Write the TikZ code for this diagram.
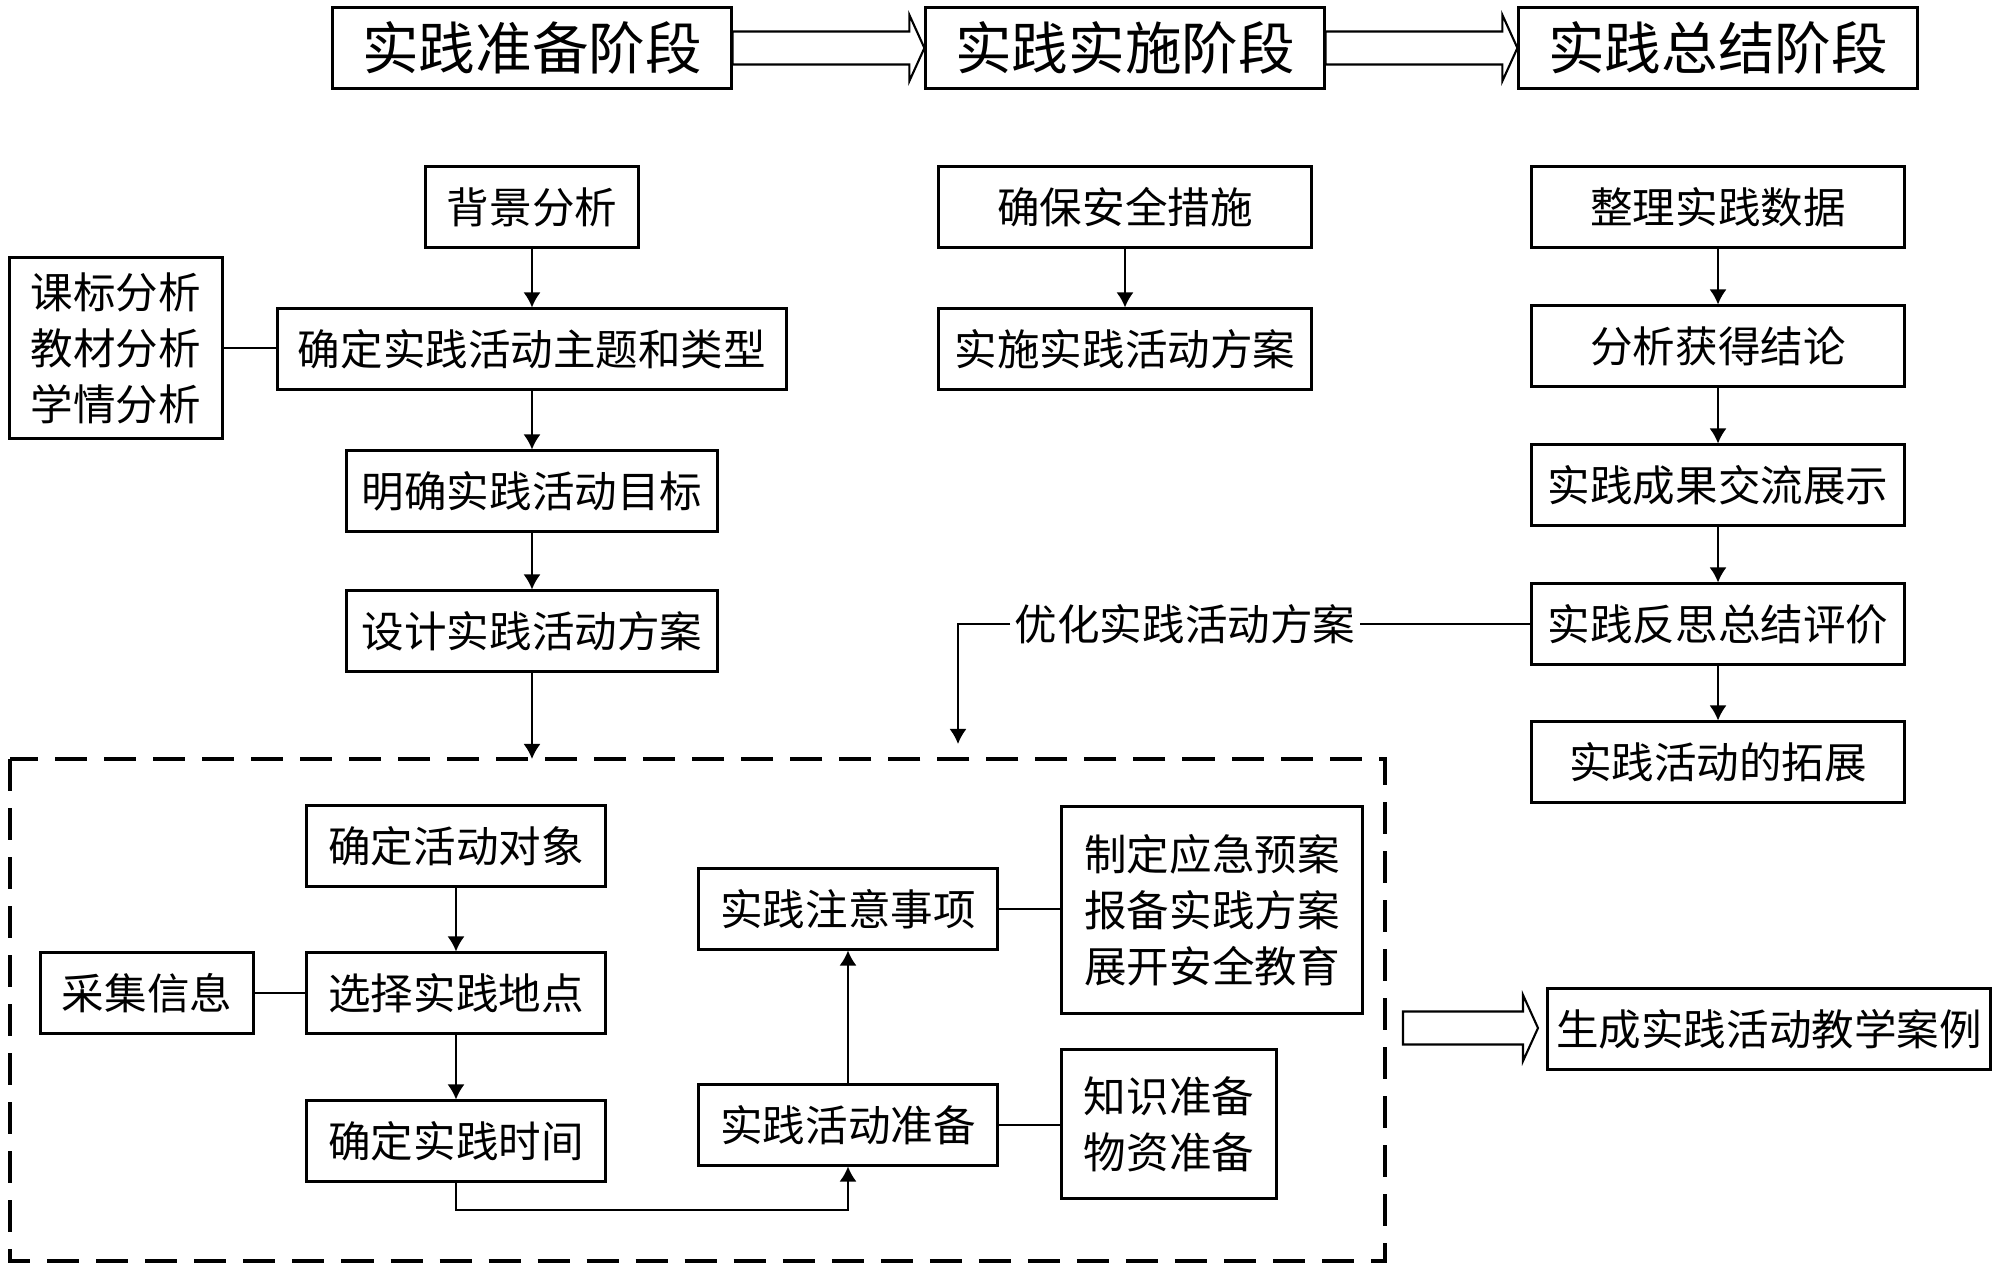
\documentclass[tikz,border=0pt]{standalone}
\usepackage{fontspec}
\newfontfamily\cjk{Noto Sans CJK SC}
\usetikzlibrary{arrows.meta}
\begin{document}
\begin{tikzpicture}[x=0.01cm,y=-0.01cm,line width=0.55pt,>={Latex[length=1.5mm,width=1.7mm]},
  blk/.style={draw,line width=0.85pt,inner sep=0pt,minimum height=0.8cm,align=center,
    font=\cjk\fontsize{12.1}{15.9}\selectfont},
  stage/.style={blk,minimum width=3.98cm,font=\cjk\fontsize{16.1}{20}\selectfont},
  hollow/.style={draw,line width=0.6pt,line join=miter},
  dashframe/.style={draw,line width=0.9pt,dash pattern=on 0.32cm off 0.17cm}]
\useasboundingbox (0,0) rectangle (2000,1270);
\node[stage] (s1) at (532,48) {实践准备阶段};
\node[stage] (s2) at (1125,48) {实践实施阶段};
\node[stage] (s3) at (1718,48) {实践总结阶段};
\node[blk,minimum width=2.13cm] (bg) at (532,207) {背景分析};
\node[blk,minimum width=5.09cm] (theme) at (532,349) {确定实践活动主题和类型};
\node[blk,minimum width=2.12cm,minimum height=1.81cm] (basis) at (116,348) {课标分析\\教材分析\\学情分析};
\node[blk,minimum width=3.71cm] (goal) at (532,491) {明确实践活动目标};
\node[blk,minimum width=3.71cm] (design) at (532,631) {设计实践活动方案};
\node[blk,minimum width=3.72cm] (safe) at (1125,207) {确保安全措施};
\node[blk,minimum width=3.72cm] (impl) at (1125,349) {实施实践活动方案};
\node[blk,minimum width=3.72cm] (data) at (1718,207) {整理实践数据};
\node[blk,minimum width=3.72cm] (concl) at (1718,346) {分析获得结论};
\node[blk,minimum width=3.72cm] (show) at (1718,485) {实践成果交流展示};
\node[blk,minimum width=3.72cm] (reflect) at (1718,624) {实践反思总结评价};
\node[blk,minimum width=3.72cm] (ext) at (1718,762) {实践活动的拓展};
\node[font=\cjk\fontsize{12.1}{15.9}\selectfont,inner sep=1pt] (opt) at (1185,624) {优化实践活动方案};
\coordinate (optend) at (958,744);
\coordinate (fnw) at (10,759);
\coordinate (fse) at (1385,1261);
\draw[dashframe] (fnw) rectangle (fse);
\node[blk,minimum width=2.99cm] (obj) at (456,846) {确定活动对象};
\node[blk,minimum width=2.99cm] (site) at (456,993) {选择实践地点};
\node[blk,minimum width=2.13cm] (info) at (147,993) {采集信息};
\node[blk,minimum width=2.99cm] (time) at (456,1141) {确定实践时间};
\node[blk,minimum width=2.99cm] (prep) at (848,1125) {实践活动准备};
\node[blk,minimum width=2.99cm] (note) at (848,909) {实践注意事项};
\node[blk,minimum width=3cm,minimum height=2.07cm] (plan) at (1212,910) {制定应急预案\\报备实践方案\\展开安全教育};
\node[blk,minimum width=2.14cm,minimum height=1.48cm] (know) at (1169,1124) {知识准备\\物资准备};
\node[blk,minimum width=4.42cm] (case) at (1769,1029) {生成实践活动教学案例};
\coordinate (low) at (0,1210);
\coordinate (cs) at (1403,1028);
\coordinate (ct) at (1538,1028);
\foreach \a/\b in {bg/theme,theme/goal,goal/design,safe/impl,data/concl,concl/show,show/reflect,reflect/ext,obj/site,site/time,prep/note}
  \draw[->] (\a) -- (\b);
\draw (basis.east) -- (basis.east -| theme.west);
\draw (info.east) -- (info.east -| site.west);
\draw (note.east) -- (note.east -| plan.west);
\draw (prep.east) -- (prep.east -| know.west);
\draw[->] (design) -- (design |- fnw);
\draw (reflect) -- (opt);
\draw[->] (opt) -| (optend);
\draw[->] (time.south) -- (time.south |- low) -| (prep.south);
\foreach \a/\b in {s1.east/s2.west,s2.east/s3.west,cs/ct}
  \draw[hollow] ([yshift=0.165cm]\a) -- ([xshift=-0.15cm,yshift=0.165cm]\b)
    -- ([xshift=-0.15cm,yshift=0.33cm]\b) -- (\b) -- ([xshift=-0.15cm,yshift=-0.33cm]\b)
    -- ([xshift=-0.15cm,yshift=-0.165cm]\b) -- ([yshift=-0.165cm]\a) -- cycle;
\end{tikzpicture}
\end{document}
